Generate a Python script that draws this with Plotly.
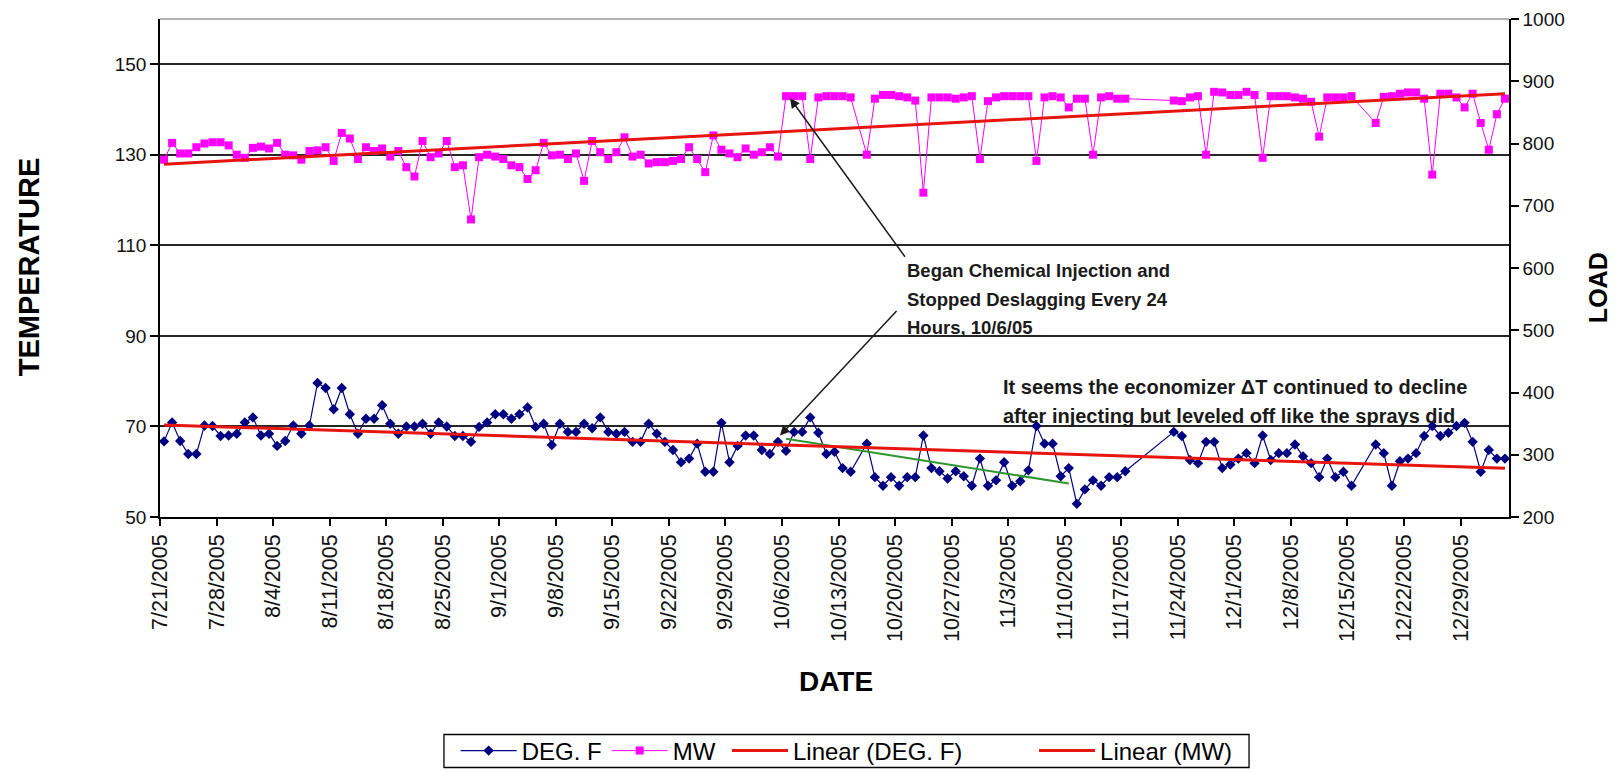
import numpy as np
import pandas as pd
import plotly.graph_objects as go

# Daily readings 7/21/2005 - 1/3/2006; days without a reading are left out
all_days = pd.date_range("2005-07-21", "2006-01-03", freq="D")
missing_days = pd.to_datetime([
    "2005-10-15",
    "2005-11-18", "2005-11-19", "2005-11-20", "2005-11-21", "2005-11-22",
    "2005-12-16", "2005-12-17",
])
dates = all_days[~all_days.isin(missing_days)]

# Economizer temperature difference, deg F
deg_f = [
    66.7, 70.9, 66.8, 63.9, 63.9, 70.2, 70.1, 67.9, 68.0, 68.4,
    70.9, 72.0, 68.0, 68.4, 65.7, 66.8, 70.2, 68.4, 70.2, 79.6,
    78.5, 73.8, 78.5, 72.7, 68.4, 71.7, 71.7, 74.7, 70.6, 68.4,
    70.0, 70.0, 70.6, 68.4, 70.9, 70.0, 67.9, 67.9, 66.6, 69.9,
    70.9, 72.7, 72.7, 71.7, 72.7, 74.2, 69.9, 70.6, 65.9, 70.6,
    68.8, 68.8, 70.6, 69.6, 72.0, 68.8, 68.4, 68.8, 66.6, 66.6,
    70.6, 68.4, 66.6, 64.8, 62.1, 62.9, 66.2, 60.0, 60.0, 70.8,
    62.1, 65.7, 68.0, 68.0, 64.8, 63.9, 66.6, 64.6, 68.8, 68.8,
    72.0, 68.6, 63.9, 64.4, 60.8, 60.0,
    66.2, 58.8, 56.9, 58.8, 56.9, 58.8, 58.8, 68.0, 60.8, 60.1,
    58.5, 60.1, 59.0, 56.9, 62.9, 56.9, 58.1, 62.1, 56.9, 57.9,
    60.3, 70.1, 66.2, 66.2, 59.0, 60.8, 52.9, 56.1, 58.1, 56.9,
    58.8, 58.8, 60.1,
    68.8, 67.9, 62.6, 61.9, 66.6, 66.6, 60.8, 61.6, 62.9, 64.1,
    61.9, 68.0, 62.6, 64.1, 64.1, 66.0, 63.4, 61.9, 58.8, 62.9,
    58.8, 60.0, 56.9,
    66.0, 64.1, 56.9, 62.3, 62.9, 64.1, 67.9, 70.1, 67.9, 68.6,
    70.1, 70.8, 66.6, 60.0, 64.8, 62.9, 62.9,
]

# Unit load, MW
mw = [
    774, 801, 784, 784, 794, 800, 802, 802, 797, 782,
    777, 793, 795, 792, 801, 782, 781, 774, 788, 789,
    794, 772, 817, 808, 775, 794, 788, 792, 779, 788,
    762, 747, 804, 778, 784, 804, 762, 765, 678, 778,
    782, 779, 775, 765, 762, 743, 757, 801, 781, 782,
    775, 784, 740, 804, 786, 775, 786, 810, 779, 782,
    768, 770, 770, 772, 775, 794, 775, 754, 813, 790,
    784, 778, 792, 782, 786, 794, 779, 876, 876, 876,
    775, 874, 876, 876, 876, 874,
    782, 872, 878, 878, 876, 874, 869, 721, 874, 874,
    874, 872, 874, 876, 775, 868, 874, 876, 876, 876,
    876, 772, 874, 876, 874, 858, 872, 872, 782, 874,
    876, 872, 872,
    869, 868, 874, 876, 782, 883, 882, 878, 878, 883,
    878, 777, 876, 876, 876, 874, 872, 867, 811, 874,
    874, 874, 876,
    833, 875, 876, 880, 882, 882, 872, 750, 880, 880,
    874, 858, 880, 833, 790, 847, 872,
]

# Hand-drawn decline line after injection started (10/6 to 11/10)
decline_dates = pd.to_datetime(["2005-10-06", "2005-11-10"])
decline_vals = [67.3, 57.4]

# Legend labels (trailing no-break spaces widen the gaps between entries)
NBSP = "\u00a0"
legend_names = ["DEG. F", "MW" + NBSP,
                "Linear (DEG. F)" + NBSP * 10, "Linear (MW)"]

# Each day's point sits in the middle of its day on the date axis
half_day = pd.Timedelta(hours=12)
x_pos = dates + half_day
decline_x = decline_dates + half_day

# Least-squares linear trendlines over the full period
day_num = (dates - dates[0]).days.values.astype(float)


def linear_trend(values):
    slope, intercept = np.polyfit(day_num, np.asarray(values, float), 1)
    ends = np.array([day_num[0], day_num[-1]])
    return slope * ends + intercept


trend_x = [x_pos[0], x_pos[-1]]
deg_trend = linear_trend(deg_f)
mw_trend = linear_trend(mw)

FONT = "Liberation Sans, Arial, Helvetica, sans-serif"
RED = "#E8150F"

fig = go.Figure()
fig.add_trace(go.Scatter(
    x=x_pos, y=deg_f, name=legend_names[0], mode="lines+markers",
    line=dict(color="#000080", width=1.2),
    marker=dict(symbol="diamond", size=8, color="#000080"),
))
fig.add_trace(go.Scatter(
    x=x_pos, y=mw, name=legend_names[1], mode="lines+markers", yaxis="y2",
    line=dict(color="#FF00FF", width=1),
    marker=dict(symbol="square", size=8, color="#FF00FF"),
))
fig.add_trace(go.Scatter(
    x=decline_x, y=decline_vals, mode="lines", showlegend=False,
    line=dict(color="#2E962E", width=2), hoverinfo="skip",
))
fig.add_trace(go.Scatter(
    x=trend_x, y=deg_trend, name=legend_names[2], mode="lines",
    line=dict(color=RED, width=3),
))
fig.add_trace(go.Scatter(
    x=trend_x, y=mw_trend, name=legend_names[3], mode="lines", yaxis="y2",
    line=dict(color=RED, width=3),
))

annotations = [
    # axis titles
    dict(text="TEMPERATURE", xref="paper", yref="paper", x=-0.0971, y=0.5014,
         xanchor="center", yanchor="middle", textangle=-90, showarrow=False,
         font=dict(family=FONT, size=29, weight="bold", color="#000")),
    dict(text="LOAD", xref="paper", yref="paper", x=1.0665, y=0.461,
         xanchor="center", yanchor="middle", textangle=-90, showarrow=False,
         font=dict(family=FONT, size=25, weight="bold", color="#000")),
    dict(text="DATE", xref="paper", yref="paper", x=0.501, y=-0.330,
         xanchor="center", yanchor="middle", showarrow=False,
         font=dict(family=FONT, size=28, weight="bold", color="#000")),
    # arrows from the note to the 10/6 readings
    dict(text="", x=pd.Timestamp("2005-10-07"), y=142.5, xref="x", yref="y",
         showarrow=True, ax=116, ay=160, arrowhead=2, arrowsize=1.3,
         arrowwidth=1.5, arrowcolor="#1a1a1a"),
    dict(text="", x=pd.Timestamp("2005-10-05 18:00"), y=68.0, xref="x", yref="y",
         showarrow=True, ax=118, ay=-126, arrowhead=2, arrowsize=1.3,
         arrowwidth=1.5, arrowcolor="#1a1a1a"),
]

note_lines = ["Began Chemical Injection and", "Stopped Deslagging Every 24",
              "Hours, 10/6/05"]
for line, yy in zip(note_lines, [0.4950, 0.4369, 0.3810]):
    annotations.append(dict(
        text=line, xref="paper", yref="paper", x=0.5523, y=yy,
        xanchor="left", yanchor="middle", showarrow=False,
        font=dict(family=FONT, size=18.5, weight="bold", color="#1a1a1a"),
    ))

comment_lines = ["It seems the economizer \u0394T continued to decline",
                 "after injecting but leveled off like the sprays did"]
for line, yy in zip(comment_lines, [0.2607, 0.2024]):
    annotations.append(dict(
        text=line, xref="paper", yref="paper", x=0.6234, y=yy,
        xanchor="left", yanchor="middle", showarrow=False,
        font=dict(family=FONT, size=20, weight="bold", color="#1a1a1a"),
    ))

fig.update_layout(
    width=1618, height=773, autosize=False,
    margin=dict(l=160, r=109, t=19, b=256, pad=0, autoexpand=False),
    paper_bgcolor="white", plot_bgcolor="white",
    font=dict(family=FONT, color="#000"),
    showlegend=True,
    legend=dict(orientation="h", x=0.509, xanchor="center", y=-0.4699,
                yanchor="middle", borderwidth=0,
                bgcolor="rgba(0,0,0,0)", font=dict(family=FONT, size=24),
                itemwidth=56, traceorder="normal"),
    xaxis=dict(type="date", range=["2005-07-21", "2006-01-04"],
               tick0="2005-07-21", dtick=7 * 86400000,
               tickformat="%-m/%-d/%Y", tickangle=-90, automargin=False,
               ticks="outside", ticklen=7, tickwidth=1.5, tickcolor="#000",
               showline=True, linecolor="#000", linewidth=1.5,
               showgrid=False, zeroline=False,
               tickfont=dict(family=FONT, size=21.5, color="#111")),
    yaxis=dict(range=[50, 160], tick0=50, dtick=20, automargin=False,
               ticks="outside", ticklen=8, tickwidth=1.5, tickcolor="#000",
               showline=True, linecolor="#000", linewidth=1.5,
               showgrid=True, gridcolor="#262626", gridwidth=1.6,
               zeroline=False,
               tickfont=dict(family=FONT, size=19, color="#111")),
    yaxis2=dict(overlaying="y", side="right", anchor="x", automargin=False,
                range=[200, 1000], tick0=200, dtick=100,
                ticks="outside", ticklen=8, tickwidth=1.5, tickcolor="#000",
                showline=True, linecolor="#000", linewidth=1.5,
                showgrid=False, zeroline=False,
                tickfont=dict(family=FONT, size=19, color="#111")),
    # inner half of the crossing tick marks on the load axis
    yaxis3=dict(overlaying="y", side="right", anchor="x", automargin=False,
                range=[200, 1000], tick0=200, dtick=100,
                ticks="inside", ticklen=7, tickwidth=1.5, tickcolor="#000",
                showticklabels=False, showline=False, showgrid=False,
                zeroline=False),
    annotations=annotations,
    shapes=[
        # light frame line along the top of the plot area
        dict(type="line", xref="paper", yref="paper", x0=0, x1=1,
             y0=1, y1=1, line=dict(color="#9a9a9a", width=1.5)),
        # thin box round the legend
        dict(type="rect", xref="paper", yref="paper",
             x0=0.2105, x1=0.8073, y0=-0.503, y1=-0.4367,
             line=dict(color="#000", width=1.3), fillcolor="rgba(0,0,0,0)"),
    ],
)

fig.write_html("out.html")
